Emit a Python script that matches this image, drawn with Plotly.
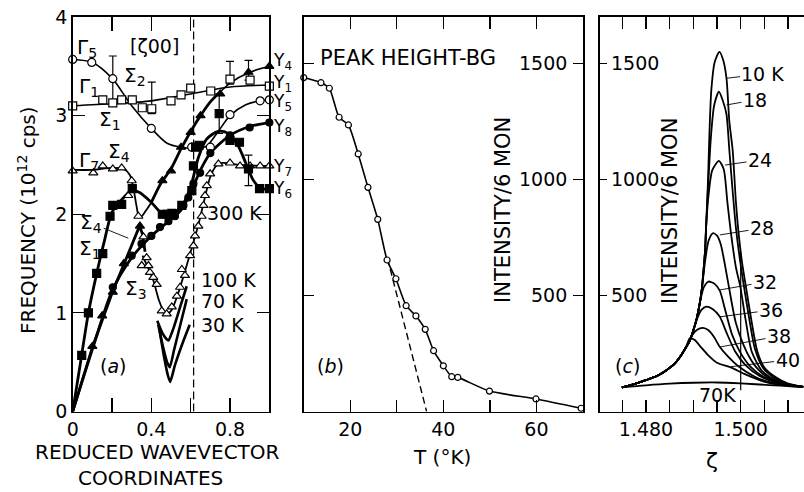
import plotly.graph_objects as go

# ================= Panel (a): dispersion =================
oc_x = [0.0, 0.097, 0.204, 0.40, 0.605, 0.70, 0.80, 0.953, 1.0]
oc_y = [3.57, 3.54, 3.375, 2.87, 2.68, 2.68, 3.01, 3.15, 3.16]
oc_line_x = [0.0, 0.1, 0.2, 0.3, 0.4, 0.48, 0.55, 0.62, 0.68, 0.74, 0.80, 0.88, 0.95, 1.0]
oc_line_y = [3.57, 3.54, 3.38, 3.10, 2.87, 2.72, 2.68, 2.67, 2.69, 2.84, 3.00, 3.11, 3.15, 3.16]

os_x = [0.0, 0.153, 0.204, 0.249, 0.303, 0.354, 0.402, 0.50, 0.551, 0.60, 0.702, 0.80, 0.902, 1.0]
os_y = [3.10, 3.16, 3.13, 3.16, 3.16, 3.08, 3.07, 3.15, 3.21, 3.28, 3.25, 3.37, 3.36, 3.30]
os_line_x = [0.0, 0.2, 0.4, 0.6, 0.8, 1.0]
os_line_y = [3.10, 3.12, 3.15, 3.22, 3.29, 3.31]

ot_x = [0.0, 0.105, 0.153, 0.204, 0.249, 0.30, 0.283, 0.334]
ot_y = [2.44, 2.42, 2.49, 2.46, 2.47, 2.34, 2.19, 1.98]
g7_line_x = [0.0, 0.1, 0.2, 0.26, 0.29, 0.31, 0.325, 0.335, 0.35, 0.37, 0.40]
g7_line_y = [2.45, 2.45, 2.47, 2.46, 2.40, 2.25, 2.08, 1.99, 1.98, 2.03, 2.12]
g7_thick_x = [0.40, 0.45, 0.50, 0.55, 0.60, 0.65, 0.70, 0.75]
g7_thick_y = [2.12, 2.32, 2.46, 2.66, 2.84, 3.00, 3.14, 3.24]
g7_end_x = [0.75, 0.80, 0.90, 1.0]
g7_end_y = [3.24, 3.33, 3.44, 3.50]

sm_x = [0.36, 0.376, 0.351, 0.385, 0.393, 0.41, 0.427, 0.453, 0.478, 0.504, 0.53, 0.546,
        0.555, 0.571, 0.597, 0.614, 0.622, 0.639, 0.656, 0.665, 0.673, 0.682, 0.699, 0.741,
        0.80, 0.851, 0.902, 0.953, 1.0]
sm_y = [1.77, 1.56, 1.48, 1.48, 1.41, 1.36, 1.29, 1.02, 0.99, 1.06, 1.17, 1.26,
        1.44, 1.38, 1.58, 1.68, 1.78, 1.88, 1.98, 2.09, 2.19, 2.29, 2.41, 2.51,
        2.52, 2.49, 2.49, 2.49, 2.49]
sm_line_x = [0.355, 0.38, 0.41, 0.44, 0.465, 0.48, 0.50, 0.53, 0.56, 0.60, 0.64, 0.67,
             0.70, 0.73, 0.76, 0.85, 1.0]
sm_line_y = [1.58, 1.47, 1.33, 1.12, 1.01, 0.99, 1.02, 1.16, 1.35, 1.62, 1.90, 2.15,
             2.38, 2.49, 2.52, 2.50, 2.49]

fs_x = [0.046, 0.08, 0.122, 0.153, 0.19, 0.204, 0.249, 0.303, 0.456, 0.48, 0.504, 0.555,
        0.606, 0.614, 0.625, 0.643, 0.745, 0.80, 0.848, 0.894, 0.95, 1.0]
fs_y = [0.57, 1.0, 1.40, 1.60, 1.98, 2.09, 2.10, 2.26, 2.0, 2.0, 2.01, 2.09,
        2.24, 2.49, 2.68, 2.70, 3.02, 2.75, 2.73, 2.46, 2.26, 2.26]
fs_line_x = [0.0, 0.04, 0.08, 0.12, 0.16, 0.20, 0.25, 0.30, 0.34, 0.40, 0.46, 0.51, 0.56,
             0.60, 0.64, 0.68, 0.74, 0.79, 0.84, 0.88, 0.92, 0.96, 1.0]
fs_line_y = [0.0, 0.5, 1.0, 1.38, 1.72, 2.02, 2.15, 2.24, 2.22, 2.12, 2.0, 2.01, 2.10,
             2.28, 2.58, 2.76, 2.84, 2.82, 2.70, 2.52, 2.34, 2.26, 2.26]

fc_x = [0.204, 0.30, 0.35, 0.40, 0.444, 0.487, 0.52, 0.563, 0.588, 0.614, 0.648, 0.70, 0.80, 0.90, 1.0]
fc_y = [1.26, 1.58, 1.70, 1.78, 1.87, 1.93, 1.98, 2.09, 2.17, 2.31, 2.42, 2.62, 2.80, 2.88, 2.93]
fc_line_x = [0.0, 0.1, 0.2, 0.3, 0.4, 0.5, 0.55, 0.6, 0.65, 0.7, 0.8, 0.9, 1.0]
fc_line_y = [0.0, 0.63, 1.22, 1.56, 1.78, 1.95, 2.04, 2.22, 2.45, 2.62, 2.80, 2.89, 2.93]

ft_lo_x = [0.10, 0.15, 0.204, 0.26, 0.342]
ft_lo_y = [0.66, 0.97, 1.21, 1.50, 1.88]
ft_lo_line_x = [0.0, 0.1, 0.2, 0.26, 0.30, 0.34, 0.355, 0.368]
ft_lo_line_y = [0.0, 0.65, 1.2, 1.5, 1.68, 1.88, 1.80, 1.62]
ft_hi_x = [0.456, 0.50, 0.551, 0.60, 0.65, 0.75, 0.894, 1.0]
ft_hi_y = [2.34, 2.44, 2.68, 2.83, 3.00, 3.22, 3.44, 3.50]

v100_x = [0.43, 0.455, 0.475, 0.487, 0.51, 0.545, 0.58]
v100_y = [0.92, 0.80, 0.74, 0.72, 0.83, 1.05, 1.27]
v70_x = [0.435, 0.46, 0.48, 0.494, 0.515, 0.55, 0.58]
v70_y = [0.88, 0.65, 0.50, 0.45, 0.62, 0.90, 1.14]
v30_x = [0.44, 0.465, 0.485, 0.496, 0.52, 0.56, 0.595]
v30_y = [0.85, 0.55, 0.36, 0.30, 0.47, 0.70, 0.88]

eb_x = [0.204, 0.402, 0.745, 0.80, 0.894, 0.894]
eb_y = [3.375, 3.07, 3.02, 3.37, 3.44, 2.46]
eb_up = [0.23, 0.27, 0.20, 0.18, 0.12, 0.14]
eb_dn = [0.22, 0.05, 0.20, 0.05, 0.08, 0.17]

zone_x = 0.615

a_xtick_vals = [0, 0.4, 0.8]
a_xtick_text = ["0", "0.4", "0.8"]
a_ytick_vals = [0, 1, 2, 3, 4]

# ================= Panel (b): peak height vs T =================
b_T = [10.0, 13.7, 15.5, 17.6, 19.6, 21.7, 23.8, 25.9, 27.9, 29.8, 32.0, 34.1, 36.1,
       37.9, 40.0, 41.8, 43.1, 49.9, 59.9, 69.6]
b_I = [1439, 1417, 1393, 1268, 1235, 1110, 966, 828, 653, 572, 456, 412, 354,
       262, 197, 150, 147, 88, 54, 14]
b_dash_T = [28.0, 36.4]
b_dash_I = [660, 0]
b_xtick_vals = [20, 40, 60]
int_ticks = [500, 1000, 1500]

# ================= Panel (c): scans =================
env_z = [1.4749, 1.4775, 1.4801, 1.4825, 1.4844, 1.4860, 1.4872, 1.4884, 1.4893, 1.4900,
         1.4907, 1.4913, 1.4918, 1.4922, 1.4925, 1.4927]
env_i = [104, 118, 136, 155, 179, 205, 236, 275, 308, 350, 400, 460, 530, 620, 700, 800]

k10_z = [1.4931, 1.4934, 1.4938, 1.4945, 1.4955, 1.4963, 1.4970, 1.4976, 1.4983, 1.4990,
         1.4996, 1.5003, 1.5011, 1.5022, 1.5035, 1.5050, 1.5076, 1.5100, 1.5132]
k10_i = [1000, 1200, 1386, 1505, 1550, 1515, 1436, 1250, 1127, 900, 760, 640, 538, 400,
         260, 190, 145, 120, 106]
k18_z = [1.4932, 1.4937, 1.4944, 1.4954, 1.4963, 1.4970, 1.4976, 1.4983, 1.4990, 1.4998,
         1.5006, 1.5018, 1.5030, 1.5048, 1.5069, 1.5100, 1.5132]
k18_i = [1000, 1180, 1320, 1378, 1335, 1280, 1127, 950, 790, 660, 550, 400, 270, 185, 148,
         118, 106]
k24_z = [1.4933, 1.4940, 1.4954, 1.4964, 1.4972, 1.4980, 1.4990, 1.4999, 1.5010, 1.5023,
         1.5043, 1.5062, 1.5100, 1.5132]
k24_i = [950, 1040, 1080, 1045, 900, 760, 620, 540, 400, 260, 180, 148, 117, 106]
k28_z = [1.4925, 1.4932, 1.4941, 1.4950, 1.4958, 1.4966, 1.4975, 1.4990, 1.5013, 1.5033,
         1.5055, 1.5090, 1.5132]
k28_i = [650, 735, 768, 758, 720, 640, 538, 380, 255, 190, 150, 120, 106]
k32_z = [1.4915, 1.4922, 1.4932, 1.4945, 1.4956, 1.4967, 1.4982, 1.4999, 1.5020, 1.5048,
         1.5085, 1.5132]
k32_i = [480, 535, 560, 550, 520, 440, 330, 255, 195, 150, 122, 106]
k36_z = [1.4910, 1.4918, 1.4928, 1.4942, 1.4956, 1.4970, 1.4988, 1.5010, 1.5041, 1.5080, 1.5132]
k36_i = [410, 440, 452, 440, 408, 340, 260, 200, 152, 122, 106]
k38_z = [1.4890, 1.4898, 1.4908, 1.4920, 1.4932, 1.4944, 1.4956, 1.4974, 1.4995, 1.5030,
         1.5070, 1.5132]
k38_i = [300, 330, 352, 360, 350, 320, 278, 235, 195, 150, 122, 106]
k40_z = [1.4893, 1.4903, 1.4915, 1.4930, 1.4950, 1.4979, 1.5010, 1.5055, 1.5100, 1.5132]
k40_i = [316, 308, 280, 245, 210, 190, 160, 125, 110, 106]
k70_z = [1.4749, 1.4800, 1.4850, 1.4900, 1.4950, 1.5000, 1.5060, 1.5132]
k70_i = [104, 113, 120, 124, 125, 121, 114, 107]

c_lab_text = ["10 K", "18", "24", "28", "32", "36", "38", "40"]
c_lab_z = [1.50471, 1.50302, 1.50408, 1.50450, 1.50513, 1.50640, 1.50809, 1.50990]
c_lab_i = [1455, 1343, 1084, 790, 558, 437, 325, 222]
c_tip_z = [1.4970, 1.4970, 1.4967, 1.4956, 1.4956, 1.4956, 1.4956, 1.4979]
c_tip_i = [1436, 1321, 1062, 761, 524, 408, 278, 193]
c_vline_z = [1.500, 1.500]
c_vline_i = [92, 690]
c_xtick_vals = [1.480, 1.500]
c_xtick_text = ["1.480", "1.500"]

FONT = "DejaVu Sans"
fig = go.Figure()


def add_line(x, y, xa, ya, width=1.5, dash=None, shape="spline", smoothing=0.8):
    fig.add_trace(go.Scatter(
        x=x, y=y, xaxis=xa, yaxis=ya, mode="lines",
        line=dict(color="black", width=width, dash=dash, shape=shape, smoothing=smoothing),
        showlegend=False, hoverinfo="skip"))


def add_markers(x, y, xa, ya, symbol, filled, size=8):
    fig.add_trace(go.Scatter(
        x=x, y=y, xaxis=xa, yaxis=ya, mode="markers", cliponaxis=False,
        marker=dict(symbol=symbol, size=size, color="black" if filled else "white",
                    line=dict(color="black", width=1.2)),
        showlegend=False, hoverinfo="skip"))


# ---- panel (a) ----
add_line([zone_x, zone_x], [0, 4], "x", "y", width=1.2, dash="8px,4px", shape="linear")
add_line(oc_line_x, oc_line_y, "x", "y", 1.6)
add_line(os_line_x, os_line_y, "x", "y", 1.6)
add_line(g7_line_x, g7_line_y, "x", "y", 1.8)
add_line(g7_thick_x, g7_thick_y, "x", "y", 2.8)
add_line(g7_end_x, g7_end_y, "x", "y", 1.6)
add_line(sm_line_x, sm_line_y, "x", "y", 1.8)
add_line(fs_line_x, fs_line_y, "x", "y", 2.8)
add_line(fc_line_x, fc_line_y, "x", "y", 2.8)
add_line(ft_lo_line_x, ft_lo_line_y, "x", "y", 2.8, shape="linear")
add_line(v100_x, v100_y, "x", "y", 2.6, smoothing=0.5)
add_line(v70_x, v70_y, "x", "y", 2.6, smoothing=0.5)
add_line(v30_x, v30_y, "x", "y", 2.6, smoothing=0.5)

fig.add_trace(go.Scatter(
    x=eb_x, y=eb_y, xaxis="x", yaxis="y", mode="markers",
    marker=dict(size=1, color="rgba(0,0,0,0)"),
    error_y=dict(type="data", symmetric=False, array=eb_up, arrayminus=eb_dn,
                 color="black", thickness=1.2, width=4),
    showlegend=False, hoverinfo="skip"))

add_markers(oc_x, oc_y, "x", "y", "circle", False, 8)
add_markers(os_x, os_y, "x", "y", "square", False, 8)
add_markers(ot_x, ot_y, "x", "y", "triangle-up", False, 8)
add_markers(sm_x, sm_y, "x", "y", "triangle-up", False, 8)
add_markers(fs_x, fs_y, "x", "y", "square", True, 8)
add_markers(fc_x, fc_y, "x", "y", "circle", True, 7)
add_markers(ft_lo_x, ft_lo_y, "x", "y", "triangle-up", True, 8)
add_markers(ft_hi_x, ft_hi_y, "x", "y", "triangle-up", True, 8)

# ---- panel (b) ----
add_line(b_T, b_I, "x2", "y2", 1.6, smoothing=0.6)
add_line(b_dash_T, b_dash_I, "x2", "y2", 1.4, dash="7px,4px", shape="linear")
add_markers(b_T, b_I, "x2", "y2", "circle", False, 6)

# ---- panel (c) ----
add_line(c_vline_z, c_vline_i, "x3", "y3", 1.2, shape="linear")
curves = [(k10_z, k10_i, 16), (k18_z, k18_i, 16), (k24_z, k24_i, 16), (k28_z, k28_i, 13),
          (k32_z, k32_i, 11), (k36_z, k36_i, 10), (k38_z, k38_i, 8), (k40_z, k40_i, 8)]
for zz, ii, n in curves:
    add_line(env_z[:n] + zz, env_i[:n] + ii, "x3", "y3", 1.8, smoothing=0.7)
add_line(k70_z, k70_i, "x3", "y3", 1.8, smoothing=0.8)

# ---------------- axes ----------------
ax_common = dict(showline=True, linecolor="black", linewidth=1.6, ticks="inside",
                 tickcolor="black", tickwidth=1.2, showgrid=False, zeroline=False,
                 mirror="ticks", automargin=False,
                 tickfont=dict(family=FONT, size=19, color="black"))
ydom = [0.1636, 0.9654]

fig.update_layout(
    width=804, height=492, margin=dict(l=0, r=0, t=0, b=0, autoexpand=False),
    paper_bgcolor="white", plot_bgcolor="white", showlegend=False,
    font=dict(family=FONT, size=19, color="black"),
    xaxis=dict(ax_common, domain=[0.0904, 0.3350], range=[0, 1.0], anchor="y",
               tickvals=a_xtick_vals, ticktext=a_xtick_text, ticklen=14,
               minor=dict(ticks="inside", ticklen=14, tickcolor="black", tickwidth=1.2,
                          tick0=0, dtick=0.2)),
    yaxis=dict(ax_common, domain=ydom, range=[0, 4], anchor="x",
               tickvals=a_ytick_vals, ticklen=12),
    xaxis2=dict(ax_common, domain=[0.3775, 0.7251], range=[9.95, 70], anchor="y2",
                tickvals=b_xtick_vals, ticklen=12,
                minor=dict(ticks="inside", ticklen=12, tickcolor="black", tickwidth=1.2,
                           tick0=10, dtick=10)),
    yaxis2=dict(ax_common, domain=ydom, range=[0, 1700], anchor="x2", side="right",
                tickvals=int_ticks, showticklabels=False, ticklen=10),
    xaxis3=dict(ax_common, domain=[0.7463, 1.0], range=[1.47029, 1.51337], anchor="y3",
                tickvals=c_xtick_vals, ticktext=c_xtick_text, ticklen=12,
                minor=dict(ticks="inside", ticklen=12, tickcolor="black", tickwidth=1.2,
                           tick0=1.475, dtick=0.005)),
    yaxis3=dict(ax_common, domain=ydom, range=[0, 1700], anchor="x3", side="left",
                tickvals=int_ticks, showticklabels=False, ticklen=7, mirror=False),
)

anns = []


def txt(text, x, y, xref, yref, size=19, xanchor="center", yanchor="middle", angle=0):
    anns.append(dict(text=text, x=x, y=y, xref=xref, yref=yref, showarrow=False,
                     xanchor=xanchor, yanchor=yanchor, textangle=angle,
                     font=dict(family=FONT, size=size, color="black")))


# panel (a) labels
txt("Γ<sub>5</sub>", 0.01, 3.69, "x", "y", 20, "left")
txt("[ζ00]", 0.414, 3.71, "x", "y", 19)
txt("Σ<sub>2</sub>", 0.251, 3.40, "x", "y", 20, "left")
txt("Γ<sub>1</sub>", 0.022, 3.29, "x", "y", 20, "left")
txt("Σ<sub>1</sub>", 0.124, 2.955, "x", "y", 20, "left")
txt("Γ<sub>7</sub>", 0.022, 2.54, "x", "y", 20, "left")
txt("Σ<sub>4</sub>", 0.17, 2.63, "x", "y", 20, "left")
txt("Σ<sub>1</sub>", 0.022, 1.65, "x", "y", 20, "left")
txt("Σ<sub>3</sub>", 0.256, 1.24, "x", "y", 20, "left")
txt("300 K", 0.674, 2.01, "x", "y", 19, "left")
txt("100 K", 0.64, 1.33, "x", "y", 19, "left")
txt("70 K", 0.64, 1.12, "x", "y", 19, "left")
txt("30 K", 0.64, 0.875, "x", "y", 19, "left")
txt("(<i>a</i>)", 0.13, 0.46, "x", "y", 19, "left")
anns.append(dict(text="Σ<sub>4</sub>", x=0.283, y=1.757, ax=0.094, ay=1.91,
                 xref="x", yref="y", axref="x", ayref="y", showarrow=True,
                 arrowhead=0, arrowwidth=0.9, arrowcolor="black", standoff=0,
                 font=dict(family=FONT, size=20, color="black")))
y_lab = ["Y<sub>4</sub>", "Y<sub>1</sub>", "Y<sub>5</sub>", "Y<sub>8</sub>", "Y<sub>7</sub>", "Y<sub>6</sub>"]
y_lab_y = [3.545, 3.33, 3.13, 2.885, 2.47, 2.25]
for t, yy in zip(y_lab, y_lab_y):
    py = 411.5 - yy * 98.6
    txt(t, 271 / 804, 1 - py / 492, "paper", "paper", 17, "left")

# panel (b) labels
txt("PEAK HEIGHT-BG", 13.0, 1524, "x2", "y2", 21, "left")
txt("(<i>b</i>)", 12.4, 196, "x2", "y2", 19, "left")
txt("INTENSITY/6 MON", 52.8, 868, "x2", "y2", 21, angle=-90)
for v in int_ticks:
    txt(str(v), 66.9, v, "x2", "y2", 19, "right")

# panel (c) labels
txt("(<i>c</i>)", 1.47303, 196, "x3", "y3", 19, "left")
txt("INTENSITY/6 MON", 1.48507, 864, "x3", "y3", 21, angle=-90)
txt("70K", 1.4950, 71, "x3", "y3", 19)
for v in int_ticks:
    txt(str(v), 1.47219, v, "x3", "y3", 19, "left")
for t, lz, li, tz, ti in zip(c_lab_text, c_lab_z, c_lab_i, c_tip_z, c_tip_i):
    anns.append(dict(text=t, x=tz, y=ti, ax=lz, ay=li, xref="x3", yref="y3",
                     axref="x3", ayref="y3", showarrow=True, arrowhead=0,
                     arrowwidth=0.9, arrowcolor="black", standoff=0,
                     font=dict(family=FONT, size=19, color="black")))

# axis titles
txt("FREQUENCY (10<sup>12</sup> cps)", 27 / 804, 1 - 220 / 492, "paper", "paper", 20, angle=-90)
txt("REDUCED WAVEVECTOR", 157 / 804, 1 - 452 / 492, "paper", "paper", 20)
txt("COORDINATES", 150 / 804, 1 - 478 / 492, "paper", "paper", 20)
txt("T (°K)", 442 / 804, 1 - 457 / 492, "paper", "paper", 20)
txt("ζ", 712 / 804, 1 - 460 / 492, "paper", "paper", 22)

fig.update_layout(annotations=anns)
fig.write_html("out.html", config={"displayModeBar": False, "staticPlot": True},
               post_script="document.body.style.margin='0px';")
